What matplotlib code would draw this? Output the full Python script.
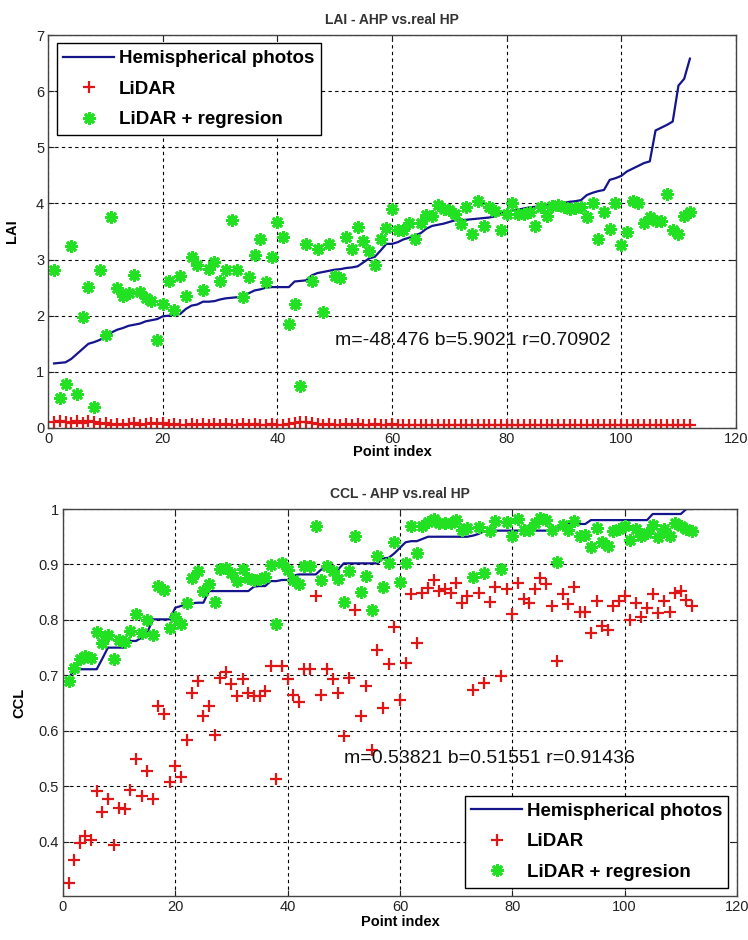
import numpy as np
import matplotlib.pyplot as plt

plt.rcParams['font.family'] = ['Liberation Sans', 'DejaVu Sans']

series_names = ["Hemispherical photos", "LiDAR", "LiDAR + regresion"]

# LAI panel
lai_hp = [
    1.15, 1.16, 1.17, 1.23, 1.32, 1.41, 1.50, 1.53, 1.57, 1.63,
    1.70, 1.75, 1.78, 1.82, 1.84, 1.86, 1.90, 1.92, 1.94, 1.99,
    2.00, 2.02, 2.03, 2.12, 2.18, 2.20, 2.25, 2.25, 2.26, 2.29,
    2.31, 2.32, 2.33, 2.35, 2.40, 2.45, 2.47, 2.50, 2.51, 2.51,
    2.51, 2.51, 2.61, 2.62, 2.63, 2.72, 2.76, 2.78, 2.80, 2.82,
    2.83, 2.85, 2.86, 2.88, 2.95, 3.02, 3.05, 3.16, 3.28, 3.28,
    3.31, 3.36, 3.39, 3.43, 3.47, 3.55, 3.60, 3.62, 3.64, 3.67,
    3.70, 3.70, 3.71, 3.72, 3.73, 3.74, 3.75, 3.77, 3.82, 3.85,
    3.88, 3.89, 3.91, 3.93, 3.94, 3.95, 3.97, 3.98, 3.99, 4.01,
    4.03, 4.04, 4.06, 4.15, 4.19, 4.22, 4.24, 4.42, 4.45, 4.49,
    4.57, 4.62, 4.67, 4.72, 4.75, 5.30, 5.35, 5.40, 5.46, 6.10,
    6.22, 6.58,
]
lai_lidar = [
    0.10, 0.13, 0.11, 0.09, 0.12, 0.08, 0.13, 0.10, 0.07, 0.08,
    0.06, 0.07, 0.06, 0.07, 0.08, 0.06, 0.07, 0.09, 0.07, 0.08,
    0.06, 0.07, 0.06, 0.06, 0.07, 0.06, 0.07, 0.06, 0.07, 0.06,
    0.07, 0.06, 0.06, 0.07, 0.06, 0.07, 0.06, 0.06, 0.07, 0.06,
    0.06, 0.07, 0.09, 0.11, 0.10, 0.08, 0.07, 0.06, 0.07, 0.06,
    0.06, 0.07, 0.06, 0.07, 0.06, 0.06, 0.07, 0.06, 0.06, 0.07,
    0.06, 0.05, 0.06, 0.05, 0.06, 0.05, 0.06, 0.05, 0.05, 0.06,
    0.05, 0.06, 0.05, 0.05, 0.06, 0.05, 0.06, 0.05, 0.05, 0.06,
    0.05, 0.06, 0.05, 0.05, 0.06, 0.05, 0.06, 0.05, 0.05, 0.06,
    0.05, 0.06, 0.05, 0.05, 0.06, 0.06, 0.05, 0.06, 0.05, 0.06,
    0.05, 0.05, 0.06, 0.05, 0.06, 0.05, 0.05, 0.06, 0.05, 0.06,
    0.05, 0.05,
]
lai_lidar_reg = [
    2.81, 0.53, 0.79, 3.24, 0.61, 1.97, 2.51, 0.37, 2.82, 1.65,
    3.75, 2.50, 2.35, 2.40, 2.72, 2.42, 2.31, 2.27, 1.56, 2.21,
    2.61, 2.10, 2.70, 2.35, 3.04, 2.90, 2.46, 2.84, 2.96, 2.61,
    2.82, 3.70, 2.81, 2.33, 2.69, 3.09, 3.36, 2.60, 3.04, 3.67,
    3.40, 1.86, 2.21, 0.75, 3.27, 2.61, 3.19, 2.07, 3.28, 2.70,
    2.67, 3.40, 3.18, 3.58, 3.34, 3.15, 2.91, 3.36, 3.57, 3.91,
    3.52, 3.53, 3.65, 3.37, 3.65, 3.79, 3.77, 3.97, 3.91, 3.89,
    3.82, 3.64, 3.93, 3.45, 4.05, 3.60, 3.93, 3.87, 3.52, 3.81,
    4.00, 3.81, 3.82, 3.84, 3.59, 3.93, 3.78, 3.96, 3.98, 3.93,
    3.90, 3.92, 3.94, 3.76, 4.00, 3.36, 3.84, 3.55, 4.00, 3.26,
    3.49, 4.05, 4.00, 3.66, 3.76, 3.68, 3.69, 4.17, 3.52, 3.45,
    3.78, 3.85,
]
lai_fit_text = "m=-48.476 b=5.9021 r=0.70902"
lai_ticks = [0, 1, 2, 3, 4, 5, 6, 7]
lai_tick_labels = ["0", "1", "2", "3", "4", "5", "6", "7"]

# CCL panel
ccl_hp = [
    0.694, 0.711, 0.711, 0.711, 0.711, 0.711, 0.730, 0.750, 0.750, 0.750,
    0.750, 0.762, 0.762, 0.768, 0.777, 0.801, 0.801, 0.801, 0.801, 0.822,
    0.825, 0.830, 0.830, 0.831, 0.831, 0.852, 0.852, 0.852, 0.852, 0.852,
    0.852, 0.852, 0.852, 0.860, 0.861, 0.861, 0.870, 0.870, 0.872, 0.872,
    0.880, 0.882, 0.882, 0.882, 0.882, 0.891, 0.891, 0.891, 0.891, 0.902,
    0.902, 0.902, 0.902, 0.902, 0.902, 0.902, 0.911, 0.912, 0.920, 0.930,
    0.940, 0.942, 0.942, 0.946, 0.950, 0.950, 0.950, 0.950, 0.950, 0.950,
    0.950, 0.950, 0.952, 0.955, 0.960, 0.961, 0.961, 0.961, 0.961, 0.961,
    0.961, 0.961, 0.961, 0.961, 0.961, 0.961, 0.961, 0.961, 0.973, 0.973,
    0.973, 0.973, 0.973, 0.980, 0.980, 0.980, 0.980, 0.980, 0.980, 0.980,
    0.980, 0.980, 0.980, 0.980, 0.991, 0.991, 0.991, 0.991, 0.991, 0.991,
    1.000, 1.000,
]
ccl_lidar = [
    0.326, 0.367, 0.397, 0.411, 0.403, 0.492, 0.453, 0.477, 0.394, 0.460,
    0.459, 0.493, 0.549, 0.483, 0.528, 0.477, 0.645, 0.630, 0.507, 0.537,
    0.516, 0.583, 0.668, 0.690, 0.627, 0.645, 0.592, 0.696, 0.706, 0.684,
    0.662, 0.694, 0.668, 0.662, 0.662, 0.672, 0.717, 0.513, 0.717, 0.694,
    0.665, 0.652, 0.711, 0.711, 0.844, 0.664, 0.712, 0.693, 0.669, 0.591,
    0.696, 0.818, 0.627, 0.681, 0.565, 0.746, 0.641, 0.720, 0.788, 0.655,
    0.722, 0.847, 0.758, 0.848, 0.858, 0.872, 0.853, 0.856, 0.848, 0.867,
    0.831, 0.844, 0.674, 0.848, 0.686, 0.832, 0.860, 0.698, 0.855, 0.810,
    0.866, 0.837, 0.831, 0.856, 0.876, 0.864, 0.825, 0.725, 0.846, 0.828,
    0.859, 0.814, 0.814, 0.777, 0.834, 0.789, 0.782, 0.825, 0.834, 0.843,
    0.799, 0.830, 0.806, 0.822, 0.846, 0.812, 0.834, 0.814, 0.849, 0.852,
    0.836, 0.825,
]
ccl_lidar_reg = [
    0.690, 0.713, 0.729, 0.735, 0.732, 0.779, 0.759, 0.773, 0.729, 0.763,
    0.761, 0.780, 0.811, 0.777, 0.800, 0.772, 0.861, 0.854, 0.786, 0.805,
    0.792, 0.830, 0.875, 0.888, 0.852, 0.864, 0.833, 0.891, 0.894, 0.885,
    0.870, 0.891, 0.876, 0.872, 0.874, 0.878, 0.899, 0.792, 0.902, 0.890,
    0.872, 0.864, 0.897, 0.897, 0.970, 0.872, 0.897, 0.888, 0.873, 0.833,
    0.889, 0.952, 0.850, 0.880, 0.818, 0.916, 0.860, 0.902, 0.940, 0.868,
    0.902, 0.970, 0.920, 0.970, 0.976, 0.982, 0.974, 0.974, 0.974, 0.981,
    0.962, 0.966, 0.878, 0.968, 0.885, 0.960, 0.978, 0.892, 0.976, 0.951,
    0.982, 0.963, 0.963, 0.975, 0.984, 0.980, 0.962, 0.904, 0.972, 0.962,
    0.978, 0.951, 0.954, 0.932, 0.966, 0.940, 0.934, 0.960, 0.964, 0.970,
    0.945, 0.964, 0.951, 0.957, 0.972, 0.950, 0.964, 0.952, 0.975, 0.970,
    0.964, 0.960,
]
ccl_fit_text = "m=0.53821 b=0.51551 r=0.91436"
ccl_ticks = [0.4, 0.5, 0.6, 0.7, 0.8, 0.9, 1.0]
ccl_tick_labels = ["0.4", "0.5", "0.6", "0.7", "0.8", "0.9", "1"]

x_ticks = [0, 20, 40, 60, 80, 100, 120]
x_tick_labels = ["0", "20", "40", "60", "80", "100", "120"]

for name, arr in [("lai_hp", lai_hp), ("lai_lidar", lai_lidar),
                  ("lai_lidar_reg", lai_lidar_reg), ("ccl_hp", ccl_hp),
                  ("ccl_lidar", ccl_lidar), ("ccl_lidar_reg", ccl_lidar_reg)]:
    if len(arr) != 112:
        raise ValueError(f"{name} has {len(arr)} values")

point_idx = np.arange(1, 113)

HP_COLOR = "#14148c"
LIDAR_COLOR = "#e01515"
REG_COLOR = "#22e022"
STAR = (8, 2, 0)  # 8-armed asterisk


def draw_panel(ax, hp, lidar, lidar_reg, title, ylabel, yticks, ytick_labels,
               ylim, fit_text, fit_pos, legend_loc, ylabel_x, xlabel_y):
    ax.plot(point_idx, hp, color=HP_COLOR, lw=1.6, label=series_names[0])
    ax.plot(point_idx, lidar, ls="none", marker="+", ms=8, mew=1.6,
            color=LIDAR_COLOR, label=series_names[1])
    ax.plot(point_idx, lidar_reg, ls="none", marker=STAR, ms=9, mew=2.0,
            color=REG_COLOR, label=series_names[2])

    ax.set_xlim(0, 120)
    ax.set_ylim(*ylim)
    ax.set_xticks(x_ticks)
    ax.set_xticklabels(x_tick_labels)
    ax.set_yticks(yticks)
    ax.set_yticklabels(ytick_labels)
    ax.tick_params(direction="in", length=4, width=0.8, labelsize=10.5,
                   top=True, right=True, pad=3, colors="#222222")
    ax.grid(True, color="black", ls=(0, (3, 3)), lw=0.8)
    for sp in ax.spines.values():
        sp.set_color("#444444")
        sp.set_linewidth(1.0)

    ax.set_title(title, fontsize=10, fontweight="bold", color="#333333", pad=8)
    ax.set_xlabel("Point index", fontsize=10.5, fontweight="bold")
    ax.xaxis.set_label_coords(0.5, xlabel_y)
    ax.xaxis.label.set_verticalalignment("center")
    ax.set_ylabel(ylabel, fontsize=10.5, fontweight="bold")
    ax.yaxis.set_label_coords(ylabel_x, 0.5)
    ax.yaxis.label.set_verticalalignment("center")

    ax.text(fit_pos[0], fit_pos[1], fit_text, fontsize=14, va="center",
            ha="left", color="#111111")

    leg = ax.legend(loc=legend_loc, frameon=True, fancybox=False,
                    edgecolor="black", framealpha=1, numpoints=1,
                    handlelength=2.7, handletextpad=0.25, labelspacing=0.72,
                    borderpad=0.35, borderaxespad=0.45,
                    prop={"weight": "bold", "size": 13.5})
    leg.get_frame().set_linewidth(1.0)


fig = plt.figure(figsize=(7.48, 9.4), dpi=100)
ax_lai = fig.add_axes([0.0646, 0.5447, 0.919, 0.418])
ax_ccl = fig.add_axes([0.0842, 0.0468, 0.901, 0.4117])

draw_panel(ax_lai, lai_hp, lai_lidar, lai_lidar_reg, "LAI - AHP vs.real HP",
           "LAI", lai_ticks, lai_tick_labels, (0, 7), lai_fit_text,
           (50, 1.56), "upper left", -0.053, -0.062)
draw_panel(ax_ccl, ccl_hp, ccl_lidar, ccl_lidar_reg, "CCL - AHP vs.real HP",
           "CCL", ccl_ticks, ccl_tick_labels, (0.302, 1.0), ccl_fit_text,
           (50, 0.55), "lower right", -0.064, -0.066)

fig.savefig("out.png", dpi=100)
